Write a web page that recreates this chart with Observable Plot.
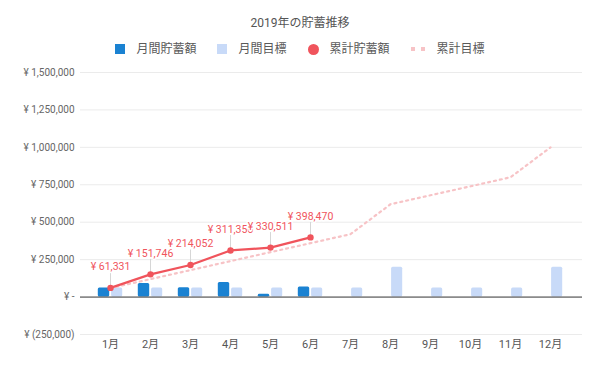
<!DOCTYPE html>
<html><head><meta charset="utf-8">
<script src="https://cdn.jsdelivr.net/npm/d3@7"></script>
<script src="https://cdn.jsdelivr.net/npm/@observablehq/plot@0.6"></script>
<style>
body{margin:0;font-family:Roboto,"Noto Sans CJK JP",sans-serif;background:#fff;}
#wrap{width:600px;}
#head{position:relative;height:62px;}
#title{position:absolute;top:15px;left:0;width:600px;text-align:center;font-size:12px;line-height:16px;color:#555;}
#legend{position:absolute;top:41px;left:0;width:600px;height:16px;display:flex;justify-content:center;align-items:center;gap:21px;font-size:12px;line-height:16px;color:#5a5a5a;}
.item{display:flex;align-items:center;gap:11px;}
#chart svg{display:block;}
</style></head>
<body><div id="wrap"><div id="head"><div id="title"></div><div id="legend"></div></div><div id="chart"></div></div>
<script>
const title = "2019年の貯蓄推移";
const seriesNames = ["月間貯蓄額", "月間目標", "累計貯蓄額", "累計目標"];
const months = ["1月","2月","3月","4月","5月","6月","7月","8月","9月","10月","11月","12月"];
const monthlySavings = [61331, 90415, 62306, 97298, 19161, 67959];
const monthlyTarget = [60000, 60000, 60000, 60000, 60000, 60000, 60000, 200000, 60000, 60000, 60000, 200000];
const cumulativeSavings = [61331, 151746, 214052, 311350, 330511, 398470];
const cumulativeTarget = [60000, 120000, 180000, 240000, 300000, 360000, 420000, 620000, 680000, 740000, 800000, 1000000];
const yTicks = [-250000, 0, 250000, 500000, 750000, 1000000, 1250000, 1500000];

const colors = {dark: "#1a82d2", light: "#c8daf8", red: "#f0545c", pink: "#f7c3c6"};

const fmtNum = d3.format(",");
const yen = v => v === 0 ? "¥ -" : v < 0 ? `¥ (${fmtNum(-v)})` : `¥ ${fmtNum(v)}`;

const savData = monthlySavings.map((v, i) => ({month: months[i], value: v}));
const tgtData = monthlyTarget.map((v, i) => ({month: months[i], value: v}));
const cumSavData = cumulativeSavings.map((v, i) => ({month: months[i], value: v}));
const cumTgtData = cumulativeTarget.map((v, i) => ({month: months[i], value: v}));

document.getElementById("title").textContent = title;
const legend = document.getElementById("legend");
const swatches = [
  `<span style="display:inline-block;width:10px;height:10px;background:${colors.dark}"></span>`,
  `<span style="display:inline-block;width:10px;height:10px;background:${colors.light}"></span>`,
  `<span style="display:inline-block;width:11px;height:11px;border-radius:50%;background:${colors.red}"></span>`,
  `<svg width="15" height="4" style="display:block"><line x1="0" y1="2" x2="15" y2="2" stroke="${colors.pink}" stroke-width="4" stroke-dasharray="4,6"/></svg>`
];
seriesNames.forEach((name, i) => {
  const it = document.createElement("div");
  it.className = "item";
  it.innerHTML = swatches[i] + `<span>${name}</span>`;
  legend.appendChild(it);
});

const chart = Plot.plot({
  width: 600,
  height: 309,
  marginTop: 10,
  marginBottom: 37,
  marginLeft: 80,
  marginRight: 18,
  style: {fontFamily: 'Roboto,"Noto Sans CJK JP",sans-serif', fontSize: "10px", background: "white", overflow: "visible"},
  x: {domain: months, padding: 0, insetLeft: 6.2, insetRight: 8.7},
  y: {domain: [-250000, 1500000]},
  marks: [
    Plot.ruleY(yTicks.filter(d => d !== 0), {stroke: "#ebebeb"}),
    Plot.axisY({ticks: yTicks, tickFormat: yen, tickSize: 0, tickPadding: 6, label: null, fill: "#666", fontSize: 10}),
    Plot.axisX({tickSize: 0, tickPadding: 6, label: null, fill: "#555", fontSize: 11}),
    Plot.barY(savData, {x: "month", y: "value", fill: colors.dark, insetLeft: 7.8, insetRight: 20.8, rx: 1.5}),
    Plot.barY(tgtData, {x: "month", y: "value", fill: colors.light, insetLeft: 21.1, insetRight: 7.8, rx: 1.5}),
    Plot.ruleY([0], {stroke: "#333"}),
    Plot.line(cumTgtData, {x: "month", y: "value", stroke: colors.pink, strokeWidth: 2.2, strokeDasharray: "2,4"}),
    Plot.ruleX(cumSavData, {x: "month", y1: "value", y2: "value", insetTop: -15, stroke: "#d6d6d6"}),
    Plot.line(cumSavData, {x: "month", y: "value", stroke: colors.red, strokeWidth: 2.2}),
    Plot.dot(cumSavData, {x: "month", y: "value", r: 3.2, fill: colors.red}),
    Plot.text(cumSavData, {x: "month", y: "value", text: d => yen(d.value), dy: -21, fill: colors.red, stroke: "white", strokeWidth: 3, paintOrder: "stroke", fontSize: 10.5})
  ]
});
document.getElementById("chart").appendChild(chart);
</script>
</body></html>
